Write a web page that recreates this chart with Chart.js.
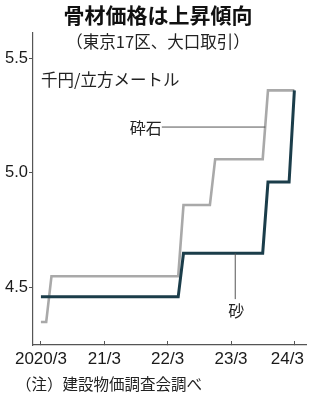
<!DOCTYPE html>
<html lang="ja">
<head>
<meta charset="utf-8">
<script src="https://cdn.jsdelivr.net/npm/chart.js@4"></script>
<style>
  html, body { margin: 0; padding: 0; background: #fff; }
  body { width: 316px; height: 400px; position: relative; overflow: hidden; font-family: 'Noto Sans CJK JP', sans-serif; color: #1a1a1a; }
  #wrap { position: absolute; left: 0; top: 0; width: 316px; height: 400px; }
  .txt { position: absolute; left: 0; width: 316px; text-align: center; line-height: 1; white-space: nowrap; z-index: 2; }
  #title { top: 4px; font-size: 21px; font-weight: 700; color: #111; }
  #sub { top: 33px; font-size: 16.5px; color: #222; }
  #note { top: 376px; left: 16px; width: auto; text-align: left; font-size: 15.5px; color: #222; }
</style>
</head>
<body>
<div id="title" class="txt">骨材価格は上昇傾向</div>
<div id="sub" class="txt">（東京17区、大口取引）</div>
<div id="wrap"><canvas id="chart"></canvas></div>
<div id="note" class="txt">（注）建設物価調査会調べ</div>
<script>
// monthly, 2020/3 .. 2024/3 (千円/立方メートル)
const months = [
    '2020/3', '2020/4', '2020/5', '2020/6', '2020/7', '2020/8', '2020/9', '2020/10', '2020/11', '2020/12',
    '2021/1', '2021/2', '2021/3', '2021/4', '2021/5', '2021/6', '2021/7', '2021/8', '2021/9', '2021/10', '2021/11', '2021/12',
    '2022/1', '2022/2', '2022/3', '2022/4', '2022/5', '2022/6', '2022/7', '2022/8', '2022/9', '2022/10', '2022/11', '2022/12',
    '2023/1', '2023/2', '2023/3', '2023/4', '2023/5', '2023/6', '2023/7', '2023/8', '2023/9', '2023/10', '2023/11', '2023/12',
    '2024/1', '2024/2', '2024/3',
];
const gravel = [
    4.35, 4.35, 4.55, 4.55, 4.55, 4.55, 4.55, 4.55, 4.55, 4.55,
    4.55, 4.55, 4.55, 4.55, 4.55, 4.55, 4.55, 4.55, 4.55, 4.55, 4.55, 4.55,
    4.55, 4.55, 4.55, 4.55, 4.55, 4.86, 4.86, 4.86, 4.86, 4.86, 4.86, 5.06,
    5.06, 5.06, 5.06, 5.06, 5.06, 5.06, 5.06, 5.06, 5.06, 5.36, 5.36, 5.36,
    5.36, 5.36, 5.36,
];
const sand = [
    4.46, 4.46, 4.46, 4.46, 4.46, 4.46, 4.46, 4.46, 4.46, 4.46,
    4.46, 4.46, 4.46, 4.46, 4.46, 4.46, 4.46, 4.46, 4.46, 4.46, 4.46, 4.46,
    4.46, 4.46, 4.46, 4.46, 4.46, 4.65, 4.65, 4.65, 4.65, 4.65, 4.65, 4.65,
    4.65, 4.65, 4.65, 4.65, 4.65, 4.65, 4.65, 4.65, 4.65, 4.96, 4.96, 4.96,
    4.96, 4.96, 5.36,
];
const xTickMonths = ['2020/3', '2021/3', '2022/3', '2023/3', '2024/3'];
const xTickLabels = ['2020/3', '21/3', '22/3', '23/3', '24/3'];
const yTicks = [4.5, 5.0, 5.5];
const unitLabel = '千円/立方メートル';

const JP = "'Noto Sans CJK JP', sans-serif";
const NUM = "'Liberation Sans Narrow', 'Liberation Sans', sans-serif";

const toPoints = (vals) => vals.map((v, i) => ({ x: i, y: v }));
const xTickValues = xTickMonths.map((m) => months.indexOf(m));

// leader labels, placed in data units
const labelNotes = {
    gravel: { text: '砕石', lineFrom: 22.9, lineTo: 42.5, y: 5.2 },
    sand: { text: '砂', x: 36.8, lineTop: 4.65, lineBottom: 4.45, textY: 4.40 },
};

const notesPlugin = {
    id: 'notes',
    afterDatasetsDraw(chart) {
        const { ctx, chartArea, scales: { x, y } } = chart;
        ctx.save();
        ctx.fillStyle = '#222';
        ctx.textBaseline = 'middle';
        ctx.font = `16.5px ${JP}`;
        ctx.textAlign = 'left';
        ctx.fillText(unitLabel, chartArea.left + 8, chartArea.top + 47);

        ctx.strokeStyle = '#555';
        ctx.lineWidth = 1;
        ctx.font = `16px ${JP}`;

        const g = labelNotes.gravel;
        const gy = y.getPixelForValue(g.y);
        ctx.beginPath();
        ctx.moveTo(x.getPixelForValue(g.lineFrom), gy);
        ctx.lineTo(x.getPixelForValue(g.lineTo), gy);
        ctx.stroke();
        ctx.textAlign = 'right';
        ctx.fillText(g.text, x.getPixelForValue(g.lineFrom), gy + 1);

        const s = labelNotes.sand;
        const sx = x.getPixelForValue(s.x);
        ctx.beginPath();
        ctx.moveTo(sx, y.getPixelForValue(s.lineTop));
        ctx.lineTo(sx, y.getPixelForValue(s.lineBottom));
        ctx.stroke();
        ctx.textAlign = 'center';
        ctx.fillText(s.text, sx + 1, y.getPixelForValue(s.textY));
        ctx.restore();
    },
};

new Chart(document.getElementById('chart'), {
    type: 'line',
    data: {
        datasets: [
            {
                label: '砂',
                data: toPoints(sand),
                borderColor: '#1b3d4a',
                borderWidth: 3,
                pointRadius: 0,
                tension: 0,
                borderJoinStyle: 'miter',
            },
            {
                label: '砕石',
                data: toPoints(gravel),
                borderColor: '#a9a9a9',
                borderWidth: 2.6,
                pointRadius: 0,
                tension: 0,
                borderJoinStyle: 'miter',
            },
        ],
    },
    options: {
        responsive: true,
        maintainAspectRatio: false,
        animation: false,
        layout: { padding: { top: 33, right: 10, bottom: 25, left: 0 } },
        plugins: {
            legend: { display: false },
            tooltip: { enabled: false },
        },
        scales: {
            x: {
                type: 'linear',
                min: -1.5,
                max: 50.2,
                grid: { drawOnChartArea: false, tickLength: -4, color: '#555', lineWidth: 1 },
                border: { color: '#555', width: 1.2 },
                ticks: {
                    color: '#1a1a1a',
                    font: { family: NUM, size: 17 },
                    padding: 8,
                    maxRotation: 0,
                    autoSkip: false,
                    callback(v) {
                        const i = xTickValues.indexOf(v);
                        if (i < 0) return '';
                        return i === xTickValues.length - 1 ? `${xTickLabels[i]}   ` : xTickLabels[i];
                    },
                },
                afterBuildTicks(scale) {
                    scale.ticks = xTickValues.map((v) => ({ value: v }));
                },
                afterFit(scale) {
                    scale.height = 30;
                    scale.paddingLeft = 0;
                    scale.paddingRight = 0;
                },
            },
            y: {
                min: 4.25,
                max: 5.61,
                grid: { drawOnChartArea: false, tickLength: 4, color: '#555', lineWidth: 1 },
                border: { color: '#555', width: 1.2 },
                ticks: {
                    color: '#1a1a1a',
                    font: { family: NUM, size: 16.5 },
                    padding: 1,
                    callback(v) {
                        return Number(v).toFixed(1);
                    },
                },
                afterBuildTicks(scale) {
                    scale.ticks = yTicks.map((v) => ({ value: v }));
                },
                afterFit(scale) {
                    scale.width = 33;
                    scale.paddingTop = 0;
                    scale.paddingBottom = 0;
                },
            },
        },
    },
    plugins: [notesPlugin],
});
</script>
</body>
</html>
